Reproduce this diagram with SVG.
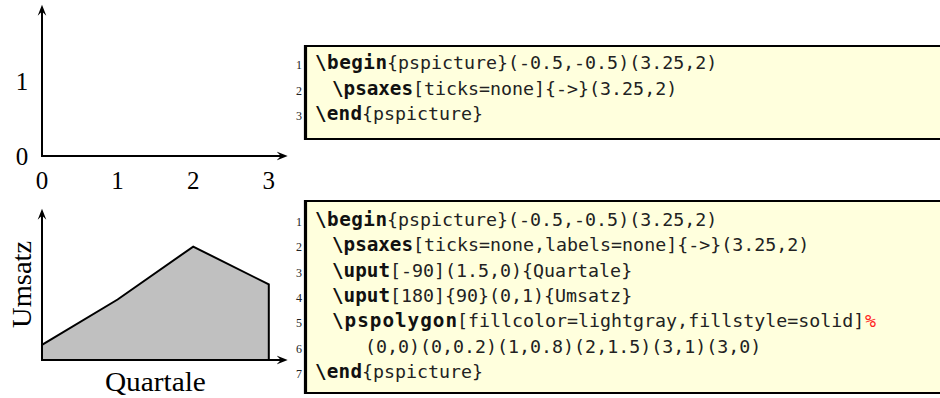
<svg xmlns="http://www.w3.org/2000/svg" width="940" height="398" viewBox="0 0 940 398">
<style>
.ax{stroke:#000;stroke-width:2;fill:none}
.lbl{font-family:"Liberation Serif",serif;font-size:25px;fill:#000;text-anchor:middle}
.big{font-family:"Liberation Serif",serif;font-size:27px;fill:#000;text-anchor:middle}
.box{fill:#ffffdd;stroke:none}
.bd{stroke:#000;stroke-width:2.2}
.bl{stroke:#000;stroke-width:3.2}
.num{font-family:"Liberation Serif",serif;font-size:12px;fill:#222;text-anchor:end}
.code{font-family:"DejaVu Sans Mono",monospace;font-size:18.3px;fill:#222}
.kw{font-family:"DejaVu Sans Mono",monospace;font-size:19.3px;font-weight:bold;fill:#111}
.pct{font-family:"DejaVu Sans Mono",monospace;font-size:18.3px;fill:#f22;font-style:italic}
</style>
<defs>
<marker id="arr" markerUnits="userSpaceOnUse" markerWidth="12" markerHeight="10" viewBox="0 -5 12 10" refX="7" refY="0" orient="auto">
<path d="M11,0 L0,-4.3 L4.2,0 L0,4.3 Z" fill="#000"/>
</marker>
</defs>

<g id="graph1">
<line class="ax" x1="42" y1="157" x2="42" y2="8.8" marker-end="url(#arr)"/>
<line class="ax" x1="41" y1="156" x2="283.7" y2="156" marker-end="url(#arr)"/>
<text class="lbl" x="22" y="165">0</text>
<text class="lbl" x="22" y="90">1</text>
<text class="lbl" x="42" y="188.5">0</text>
<text class="lbl" x="117.6" y="188.5">1</text>
<text class="lbl" x="193.2" y="188.5">2</text>
<text class="lbl" x="268.8" y="188.5">3</text>
</g>

<g id="graph2">
<polygon points="42,360 42,344.9 117.6,299.5 193.2,246.6 268.8,284.4 268.8,360" fill="#c0c0c0" stroke="#000" stroke-width="2" stroke-linejoin="miter"/>
<line class="ax" x1="42" y1="361" x2="42" y2="212.8" marker-end="url(#arr)"/>
<line class="ax" x1="41" y1="360" x2="283.7" y2="360" marker-end="url(#arr)"/>
<text class="big" transform="translate(31,284.4) rotate(-90)" textLength="87" lengthAdjust="spacingAndGlyphs">Umsatz</text>
<text class="big" x="155.4" y="391" textLength="101" lengthAdjust="spacingAndGlyphs">Quartale</text>
</g>

<g id="code1">
<rect class="box" x="304" y="46" width="636" height="93"/>
<line class="bd" x1="304" y1="46" x2="940" y2="46"/>
<line class="bd" x1="304" y1="139" x2="940" y2="139"/>
<line class="bl" x1="305.5" y1="45" x2="305.5" y2="140"/>
<text class="num" x="302" y="69">1</text>
<text class="num" x="302" y="94.5">2</text>
<text class="num" x="302" y="120">3</text>
<text x="315" y="69"><tspan class="kw" textLength="72">\begin</tspan><tspan class="code" x="387">{pspicture}(-0.5,-0.5)(3.25,2)</tspan></text>
<text x="332" y="94.5"><tspan class="kw" textLength="81">\psaxes</tspan><tspan class="code" x="413">[ticks=none]{-&gt;}(3.25,2)</tspan></text>
<text x="315" y="120"><tspan class="kw" textLength="47">\end</tspan><tspan class="code" x="362">{pspicture}</tspan></text>
</g>

<g id="code2">
<rect class="box" x="304" y="201" width="636" height="192"/>
<line class="bd" x1="304" y1="201" x2="940" y2="201"/>
<line class="bd" x1="304" y1="393" x2="940" y2="393"/>
<line class="bl" x1="305.5" y1="200" x2="305.5" y2="394"/>
<text class="num" x="302" y="226">1</text>
<text class="num" x="302" y="251.3">2</text>
<text class="num" x="302" y="276.6">3</text>
<text class="num" x="302" y="301.9">4</text>
<text class="num" x="302" y="327.2">5</text>
<text class="num" x="302" y="352.5">6</text>
<text class="num" x="302" y="377.8">7</text>
<text x="315" y="226"><tspan class="kw" textLength="72">\begin</tspan><tspan class="code" x="387">{pspicture}(-0.5,-0.5)(3.25,2)</tspan></text>
<text x="332" y="251.3"><tspan class="kw" textLength="81">\psaxes</tspan><tspan class="code" x="413">[ticks=none,labels=none]{-&gt;}(3.25,2)</tspan></text>
<text x="332" y="276.6"><tspan class="kw" textLength="58">\uput</tspan><tspan class="code" x="390">[-90](1.5,0){Quartale}</tspan></text>
<text x="332" y="301.9"><tspan class="kw" textLength="58">\uput</tspan><tspan class="code" x="390">[180]{90}(0,1){Umsatz}</tspan></text>
<text x="332" y="327.2"><tspan class="kw" textLength="125">\pspolygon</tspan><tspan class="code" x="457">[fillcolor=lightgray,fillstyle=solid]</tspan><tspan class="pct" x="865">%</tspan></text>
<text class="code" x="365" y="352.5">(0,0)(0,0.2)(1,0.8)(2,1.5)(3,1)(3,0)</text>
<text x="315" y="377.8"><tspan class="kw" textLength="47">\end</tspan><tspan class="code" x="362">{pspicture}</tspan></text>
</g>
</svg>
